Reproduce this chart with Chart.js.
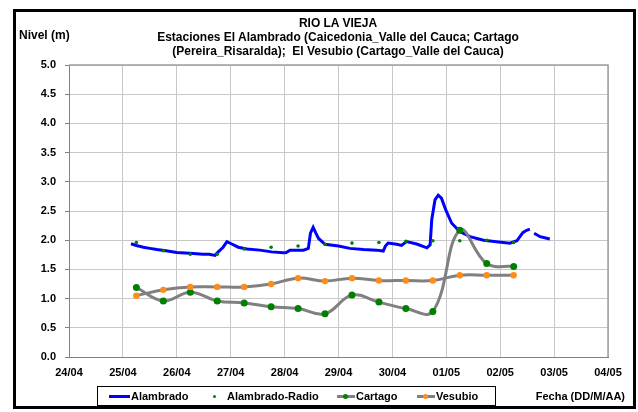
<!DOCTYPE html>
<html>
<head>
<meta charset="utf-8">
<script src="https://cdn.jsdelivr.net/npm/chart.js@4.4.1/dist/chart.umd.min.js"></script>
<style>
  body { margin: 0; background: #fff; }
  #wrap { position: relative; width: 638px; height: 412px; font-family: "Liberation Sans", Arial, sans-serif; font-weight: bold; color: #000; }
  #chart { position: absolute; left: 0; top: 0; }
  #frame { position: absolute; left: 13px; top: 9px; width: 617px; height: 394px; border: 3px solid #000; }
  #title { position: absolute; left: 88px; width: 500px; top: 16px; text-align: center; font-size: 12px; line-height: 14px; }
  #ylab { position: absolute; left: 19px; top: 28px; font-size: 12px; }
  #xlab { position: absolute; right: 13px; top: 390px; font-size: 11px; }
  #legend { position: absolute; left: 97px; top: 386px; width: 397px; height: 18px; border: 1px solid #000; font-size: 11px; }
  #legend span { position: absolute; top: 3px; }
  .sw { position: absolute; height: 3px; top: 8px; }
  .dot { position: absolute; border-radius: 50%; }
</style>
</head>
<body>
<div id="wrap">
  <canvas id="chart" width="638" height="412"></canvas>
  <div id="frame"></div>
  <div id="title">RIO LA VIEJA<br>Estaciones El Alambrado (Caicedonia_Valle del Cauca; Cartago<br>(Pereira_Risaralda);&nbsp; El Vesubio (Cartago_Valle del Cauca)</div>
  <div id="ylab">Nivel (m)</div>
  <div id="xlab">Fecha (DD/M/AA)</div>
  <div id="legend">
    <div class="sw" style="left:11px;width:21px;background:#0000ff"></div>
    <span style="left:33px">Alambrado</span>
    <div class="dot" style="left:115px;top:8px;width:3px;height:3px;background:#008000"></div>
    <span style="left:129px">Alambrado-Radio</span>
    <div class="sw" style="left:239px;width:18px;background:#808080"></div>
    <div class="dot" style="left:245px;top:7px;width:5px;height:5px;background:#008000"></div>
    <span style="left:258px">Cartago</span>
    <div class="sw" style="left:319px;width:18px;background:#808080"></div>
    <div class="dot" style="left:325px;top:7px;width:5px;height:5px;background:#ff8c1a"></div>
    <span style="left:338px">Vesubio</span>
  </div>
</div>
<script>
// dias = dia de abril (31 = 01/05)
const tickLabels = ["24/04", "25/04", "26/04", "27/04", "28/04", "29/04", "30/04", "01/05", "02/05", "03/05", "04/05"];

// lecturas cada 12 horas
const diasMedios = [25.25, 25.75, 26.25, 26.75, 27.25, 27.75, 28.25, 28.75, 29.25, 29.75, 30.25, 30.75, 31.25, 31.75, 32.25];
const radio   = [1.96, 1.82, 1.76, 1.76, 1.85, 1.88, 1.90, 1.93, 1.95, 1.96, 1.98, 1.99, 1.99, 2.00, 1.96];
const cartago = [1.19, 0.96, 1.11, 0.96, 0.925, 0.86, 0.83, 0.74, 1.06, 0.94, 0.83, 0.78, 2.17, 1.60, 1.55];
const vesubio = [1.05, 1.15, 1.20, 1.20, 1.20, 1.25, 1.35, 1.30, 1.35, 1.31, 1.31, 1.31, 1.40, 1.40, 1.40];

// Alambrado continuo
const alambradoDias = [25.15, 25.25, 25.38, 25.5, 25.63, 25.8, 26.0, 26.24, 26.49, 26.6, 26.71, 26.77, 26.86, 26.93,
  27.02, 27.14, 27.3, 27.54, 27.76, 27.98, 28.03, 28.1, 28.35, 28.44, 28.48, 28.53, 28.58, 28.63, 28.75,
  29.0, 29.21, 29.46, 29.71, 29.83, 29.87, 29.92, 30.08, 30.17, 30.26, 30.45, 30.64, 30.7, 30.73, 30.79,
  30.85, 30.91, 30.99, 31.1, 31.25, 31.44, 31.69, 31.93, 32.18, 32.31, 32.42, 32.49, 32.55, 32.59, 32.63,
  32.74, 32.92];
const alambradoNivel = [1.94, 1.91, 1.88, 1.86, 1.84, 1.82, 1.79, 1.775, 1.76, 1.76, 1.74, 1.80, 1.88, 1.975,
  1.935, 1.88, 1.85, 1.83, 1.80, 1.785, 1.79, 1.83, 1.83, 1.86, 2.12, 2.22, 2.12, 2.03, 1.93,
  1.90, 1.86, 1.84, 1.83, 1.815, 1.90, 1.95, 1.93, 1.91, 1.975, 1.935, 1.87, 1.92, 2.35, 2.69,
  2.77, 2.72, 2.52, 2.29, 2.15, 2.06, 2.00, 1.975, 1.95, 1.99, 2.13, 2.17, 2.19, null, 2.12,
  2.06, 2.02];

const pts = (xs, ys) => xs.map((x, i) => ({ x: x, y: ys[i] }));

// marco gris del area de grafico
const plotFrame = {
  id: "plotFrame",
  afterDraw(chart) {
    const a = chart.chartArea, c = chart.ctx;
    c.save();
    c.strokeStyle = "#a0a0a0";
    c.lineWidth = 1.5;
    c.beginPath();
    c.moveTo(a.left, a.top); c.lineTo(a.right, a.top); c.lineTo(a.right, a.bottom);
    c.stroke();
    c.restore();
  }
};

const font = { family: "'Liberation Sans', Arial, sans-serif", size: 11, weight: "bold" };

new Chart(document.getElementById("chart"), {
  type: "line",
  data: {
    datasets: [
      { label: "Alambrado", data: pts(alambradoDias, alambradoNivel), borderColor: "#0000ff", borderWidth: 3,
        pointRadius: 0, tension: 0, spanGaps: false, order: 4 },
      { label: "Alambrado-Radio", data: pts(diasMedios, radio), showLine: false, pointRadius: 1.8,
        pointBackgroundColor: "#008000", pointBorderWidth: 0, order: 3 },
      { label: "Cartago", data: pts(diasMedios, cartago), borderColor: "#808080", borderWidth: 3, tension: 0.4,
        pointRadius: 3.5, pointBackgroundColor: "#008000", pointBorderWidth: 0, order: 2 },
      { label: "Vesubio", data: pts(diasMedios, vesubio), borderColor: "#808080", borderWidth: 3, tension: 0.4,
        pointRadius: 3.2, pointBackgroundColor: "#ff8c1a", pointBorderWidth: 0, order: 1 }
    ]
  },
  options: {
    responsive: false,
    animation: false,
    layout: { padding: { left: 0, top: 65, right: 30, bottom: 35 } },
    plugins: { legend: { display: false }, title: { display: false }, tooltip: { enabled: false } },
    scales: {
      x: {
        type: "linear", min: 24, max: 34,
        afterFit: (s) => { s.height = 20; },
        grid: { color: "#c8c8c8", drawTicks: false },
        border: { color: "#808080" },
        ticks: { stepSize: 1, padding: 9, color: "#000", font: font, maxRotation: 0,
          callback: (v) => tickLabels[v - 24] }
      },
      y: {
        min: 0, max: 5,
        afterFit: (s) => { s.width = 69; },
        grid: { color: "#c8c8c8", tickLength: 4, tickColor: "#808080" },
        border: { color: "#808080" },
        ticks: { stepSize: 0.5, padding: 9, color: "#000", font: font, callback: (v) => v.toFixed(1) }
      }
    }
  },
  plugins: [plotFrame]
});
</script>
</body>
</html>
